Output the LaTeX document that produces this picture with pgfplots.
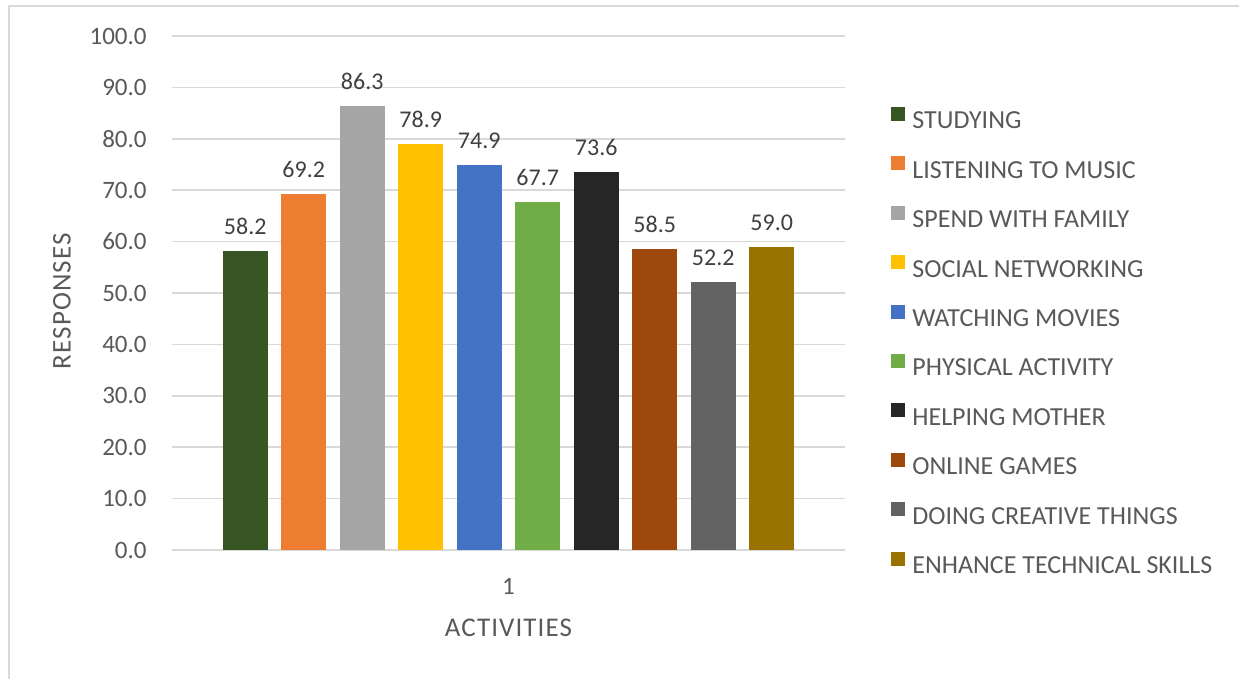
\documentclass[border=0pt]{standalone}
\usepackage{fontspec}
\setmainfont{Carlito}
\usepackage{pgfplots}
\pgfplotsset{compat=1.18}

\definecolor{cStudy}{HTML}{375623}
\definecolor{cMusic}{HTML}{ED7D31}
\definecolor{cFamily}{HTML}{A5A5A5}
\definecolor{cSocial}{HTML}{FFC000}
\definecolor{cMovies}{HTML}{4472C4}
\definecolor{cPhys}{HTML}{70AD47}
\definecolor{cMother}{HTML}{262626}
\definecolor{cGames}{HTML}{9E480E}
\definecolor{cCreative}{HTML}{636363}
\definecolor{cTech}{HTML}{997300}
\definecolor{gridgray}{HTML}{D9D9D9}
\definecolor{textgray}{HTML}{595959}
\definecolor{labelgray}{HTML}{404040}

\newcommand{\tickfont}{\fontsize{12.5}{14}\selectfont}
\newcommand{\valfont}{\fontsize{12}{14}\selectfont}
\newcommand{\legfont}{\fontsize{13}{15}\selectfont}
\newcommand{\titlefont}{\fontsize{13.5}{16}\selectfont\addfontfeatures{LetterSpace=4}}

\begin{document}
\begin{tikzpicture}[x=1pt,y=1pt]
\useasboundingbox (0,0) rectangle (619.5,339.5);
% outer frame of the chart area
\draw[gridgray, line width=0.8pt] (4.5,0) -- (4.5,336.5) -- (619.5,336.5);
\begin{axis}[
  at={(86pt,64.5pt)}, anchor=south west,
  scale only axis, width=336.5pt, height=257pt,
  ybar=6.75pt, bar width=22.5pt,
  xmin=0, xmax=2, ymin=0, ymax=100,
  xtick={1}, ytick={0,10,...,100},
  axis line style={draw=none},
  tick style={draw=none},
  ymajorgrids, grid style={gridgray, line width=0.8pt},
  /pgf/number format/assume math mode=true,
  yticklabel={\pgfmathprintnumber[fixed,fixed zerofill,precision=1]{\tick}},
  yticklabel style={font=\tickfont, text=textgray, anchor=east, inner sep=0pt, xshift=-12.5pt},
  xticklabel style={font=\tickfont, text=textgray, anchor=north, inner sep=0pt, yshift=-9.5pt},
  xlabel={ACTIVITIES}, ylabel={RESPONSES},
  xlabel style={font=\titlefont, text=textgray, at={(axis description cs:0.5,-0.1518)}, anchor=center, inner sep=0pt},
  ylabel style={font=\titlefont, text=textgray, at={(axis description cs:-0.1634,0.484)}, anchor=center, rotate=0, inner sep=0pt},
  nodes near coords={\pgfmathprintnumber[fixed,fixed zerofill,precision=1]{\pgfplotspointmeta}},
  nodes near coords style={font=\valfont, text=labelgray, anchor=south, inner sep=0pt, yshift=8pt},
  legend image code/.code={\fill[#1] (0pt,0pt) rectangle (7pt,7pt);},
  legend cell align=left,
  legend style={at={(1.0684,0.408)}, anchor=west, draw=none, fill=none, inner sep=0pt,
    row sep=13.7pt, font=\legfont, text=textgray,
    nodes={inner sep=0pt, text height=8pt, text depth=0pt},
    /tikz/every odd column/.style={column sep=3.5pt}},
]
\addplot[fill=cStudy, draw=none] coordinates {(1,58.2)};
\addplot[fill=cMusic, draw=none] coordinates {(1,69.2)};
\addplot[fill=cFamily, draw=none] coordinates {(1,86.3)};
\addplot[fill=cSocial, draw=none] coordinates {(1,78.9)};
\addplot[fill=cMovies, draw=none] coordinates {(1,74.9)};
\addplot[fill=cPhys, draw=none] coordinates {(1,67.7)};
\addplot[fill=cMother, draw=none] coordinates {(1,73.6)};
\addplot[fill=cGames, draw=none] coordinates {(1,58.5)};
\addplot[fill=cCreative, draw=none] coordinates {(1,52.2)};
\addplot[fill=cTech, draw=none] coordinates {(1,59.0)};
\legend{STUDYING, LISTENING TO MUSIC, SPEND WITH FAMILY, SOCIAL NETWORKING,
  WATCHING MOVIES, PHYSICAL ACTIVITY, HELPING MOTHER, ONLINE GAMES,
  DOING CREATIVE THINGS, ENHANCE TECHNICAL SKILLS}
\end{axis}
\end{tikzpicture}
\end{document}
